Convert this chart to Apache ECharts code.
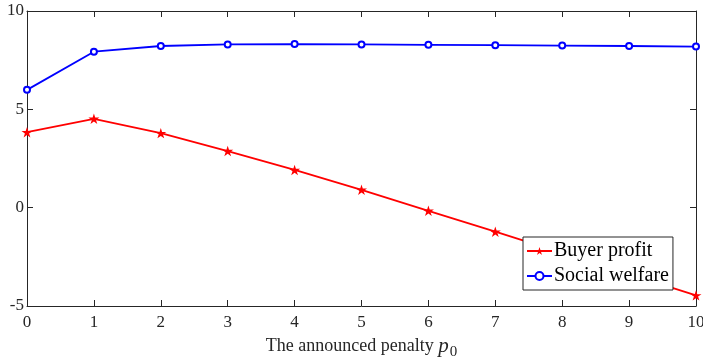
<!DOCTYPE html>
<html>
<head>
<meta charset="utf-8">
<script src="https://cdn.jsdelivr.net/npm/echarts@6/dist/echarts.min.js"></script>
<style>
  html, body { margin: 0; padding: 0; background: #fff; }
  #chart { width: 703px; height: 362px; }
</style>
</head>
<body>
<div id="chart"></div>
<script>
const penalty = [0, 1, 2, 3, 4, 5, 6, 7, 8, 9, 10];
const buyerProfit = [3.84, 4.52, 3.79, 2.88, 1.92, 0.91, -0.16, -1.22, -2.3, -3.38, -4.46];
const socialWelfare = [5.99, 7.93, 8.22, 8.3, 8.32, 8.3, 8.28, 8.26, 8.24, 8.22, 8.19];

const starPath = 'path://M0,-1 L0.2245,-0.309 L0.951,-0.309 L0.363,0.118 L0.588,0.809 L0,0.382 L-0.588,0.809 L-0.363,0.118 L-0.951,-0.309 L-0.2245,-0.309 Z';
const font = 'Liberation Serif';
const axisColor = '#262626';

const chart = echarts.init(document.getElementById('chart'));

const baseAxis = {
  axisLine: { show: true, onZero: false, lineStyle: { color: axisColor, width: 1 } },
  axisTick: { show: true, inside: true, length: 6, lineStyle: { color: axisColor } },
  splitLine: { show: false }
};

chart.setOption({
  animation: false,
  textStyle: { fontFamily: font },
  grid: { left: 27, right: 7, top: 11, bottom: 56, outerBoundsMode: 'none', containLabel: false },
  xAxis: [
    Object.assign({}, baseAxis, {
      type: 'value', min: 0, max: 10, interval: 1,
      axisLabel: { color: '#262626', fontSize: 17, fontFamily: font, margin: 8 },
      name: '{a|The announced penalty }{p|p}{s|0}',
      nameLocation: 'middle',
      nameGap: 22,
      nameTextStyle: {
        rich: {
          a: { fontSize: 18, fontFamily: font, color: '#262626' },
          p: { fontSize: 21, fontFamily: font, fontStyle: 'italic', color: '#262626' },
          s: { fontSize: 15, fontFamily: font, color: '#262626', padding: [12, 0, 0, 1] }
        }
      }
    }),
    Object.assign({}, baseAxis, {
      type: 'value', min: 0, max: 10, interval: 1, position: 'top',
      axisLabel: { show: false }
    })
  ],
  yAxis: [
    Object.assign({}, baseAxis, {
      type: 'value', min: -5, max: 10, interval: 5,
      axisLabel: { color: '#262626', fontSize: 17, fontFamily: font, margin: 3 }
    }),
    Object.assign({}, baseAxis, {
      type: 'value', min: -5, max: 10, interval: 5, position: 'right',
      axisLabel: { show: false }
    })
  ],
  legend: {
    orient: 'vertical',
    left: 523,
    top: 237,
    padding: [4, 4, 4, 3],
    itemGap: 5,
    itemWidth: 25,
    itemHeight: 10,
    borderColor: axisColor,
    borderWidth: 1,
    borderRadius: 0,
    backgroundColor: '#fff',
    textStyle: { fontSize: 20, fontFamily: font, color: '#000', padding: [0, 0, 0, -3] },
    data: ['Buyer profit', 'Social welfare']
  },
  series: [
    {
      name: 'Buyer profit',
      type: 'line',
      data: penalty.map((x, i) => [x, buyerProfit[i]]),
      symbol: starPath,
      symbolSize: 11,
      symbolKeepAspect: true,
      color: '#ff0000',
      lineStyle: { color: '#ff0000', width: 1.8 },
      itemStyle: { color: '#ff0000' },
      z: 2
    },
    {
      name: 'Social welfare',
      type: 'line',
      data: penalty.map((x, i) => [x, socialWelfare[i]]),
      symbol: 'emptyCircle',
      symbolSize: 6,
      color: '#0000ff',
      lineStyle: { color: '#0000ff', width: 1.8 },
      itemStyle: { color: '#0000ff', borderWidth: 1.6 },
      z: 2
    }
  ]
});
</script>
</body>
</html>
